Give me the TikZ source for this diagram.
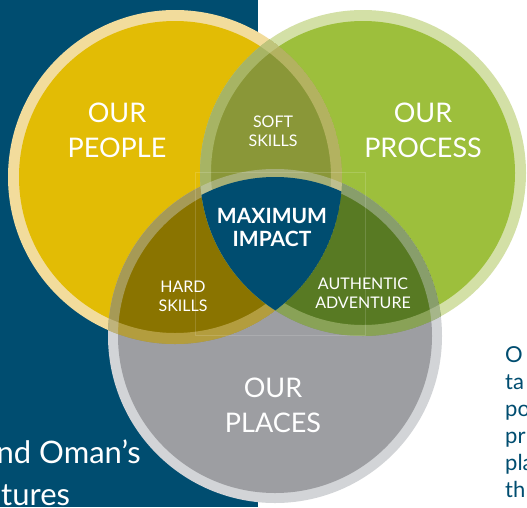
\documentclass[tikz,border=0pt]{standalone}
\usepackage{fontspec}
\setmainfont{Lato}
\definecolor{navy}{RGB}{0,77,112}
\definecolor{peopleYel}{RGB}{226,188,5}
\definecolor{peopleRing}{RGB}{242,220,156}
\definecolor{processGrn}{RGB}{157,191,60}
\definecolor{processRing}{RGB}{211,224,166}
\definecolor{placesGry}{RGB}{157,158,162}
\definecolor{placesRing}{RGB}{210,212,215}
\definecolor{softOlive}{RGB}{138,151,56}
\definecolor{hardGold}{RGB}{138,116,0}
\definecolor{advGreen}{RGB}{88,122,35}

\tikzset{
  bigtxt/.style={text=white, align=center, inner sep=0pt, font=\fontsize{27}{35}\selectfont},
  smalltxt/.style={text=white, align=center, inner sep=0pt, font=\fontsize{16}{19}\selectfont},
  boldtxt/.style={text=white, align=center, inner sep=0pt, font=\bfseries\fontsize{21}{23}\selectfont},
  sidetxt/.style={text=white, inner sep=0pt, font=\fontsize{31}{40}\selectfont},
  bodytxt/.style={text=navy, inner sep=0pt, anchor=base west, font=\fontsize{22}{27}\selectfont},
  ringover/.style={even odd rule, opacity=0.4}
}

\begin{document}
\begin{tikzpicture}[x=1pt, y=-1pt]
  \useasboundingbox (0,0) rectangle (527,507);
  \clip (0,0) rectangle (527,507);
  \fill[white] (0,0) rectangle (527,507);
  \fill[navy] (0,0) rectangle (258,507);

  % text half hidden behind the circles
  \node[sidetxt, anchor=base east] (oman) at (141,463) {nd Oman’s};
  \node[sidetxt, anchor=base west] (tures) at (1,505) {tures};
  \foreach \t [count=\i] in {O,ta,po,pr,pla,th}
    \node[bodytxt] (side\i) at (505,{362+27*(\i-1)}) {\t};

  \coordinate (yc) at (175,177);
  \coordinate (gc) at (363,173);
  \coordinate (pc) at (275,336);

  % the three circles
  \fill[peopleRing] (yc) circle[radius=167pt];
  \fill[peopleYel] (yc) circle[radius=156pt];
  \fill[processRing] (gc) circle[radius=163pt];
  \fill[processGrn] (gc) circle[radius=152pt];
  \fill[placesRing] (pc) circle[radius=167pt];
  \fill[placesGry] (pc) circle[radius=157pt];

  % hard skills
  \begin{scope}
    \clip (yc) circle[radius=167pt];
    \clip (pc) circle[radius=167pt];
    \fill[hardGold] (yc) circle[radius=167pt];
    \fill[ringover, peopleRing] (yc) circle[radius=167pt] (yc) circle[radius=156pt];
    \fill[ringover, placesRing] (pc) circle[radius=167pt] (pc) circle[radius=157pt];
  \end{scope}
  % authentic adventure
  \begin{scope}
    \clip (gc) circle[radius=163pt];
    \clip (pc) circle[radius=167pt];
    \fill[advGreen] (gc) circle[radius=163pt];
    \fill[ringover, processRing] (gc) circle[radius=163pt] (gc) circle[radius=152pt];
    \fill[ringover, placesRing] (pc) circle[radius=167pt] (pc) circle[radius=157pt];
  \end{scope}
  % soft skills
  \begin{scope}
    \clip (yc) circle[radius=167pt];
    \clip (gc) circle[radius=163pt];
    \fill[softOlive] (yc) circle[radius=167pt];
    \fill[ringover, peopleRing] (yc) circle[radius=167pt] (yc) circle[radius=156pt];
    \fill[ringover, processRing] (gc) circle[radius=163pt] (gc) circle[radius=152pt];
    \fill[ringover, placesRing] (pc) circle[radius=167pt] (pc) circle[radius=157pt];
  \end{scope}
  % maximum impact
  \begin{scope}
    \clip (yc) circle[radius=167pt];
    \clip (gc) circle[radius=163pt];
    \fill[navy] (pc) circle[radius=159pt];
  \end{scope}
  \draw[white, opacity=0.15, line width=0.6pt] (195,172) rectangle (365,335);

  \node[bigtxt] (people) at (117,130) {OUR\\PEOPLE};
  \node[bigtxt] (process) at (423,130) {OUR\\PROCESS};
  \node[bigtxt] (places) at (273,405) {OUR\\PLACES};
  \node[smalltxt] (soft) at (273,131) {SOFT\\SKILLS};
  \node[smalltxt] (hard) at (183,296) {HARD\\SKILLS};
  \node[smalltxt] (adv) at (363,293) {AUTHENTIC\\ADVENTURE};
  \node[boldtxt] (impact) at (272,227) {MAXIMUM\\IMPACT};
\end{tikzpicture}
\end{document}
